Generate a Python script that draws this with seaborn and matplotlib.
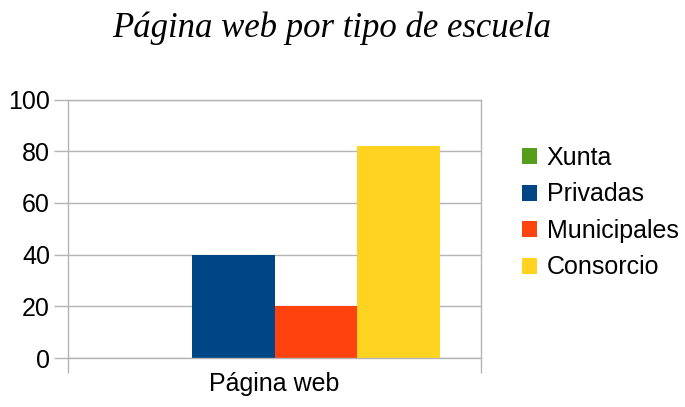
import matplotlib
matplotlib.use('Agg')
import matplotlib.pyplot as plt
import seaborn as sns
import pandas as pd
from matplotlib.ticker import FixedLocator

# Data
categories = ["Página web"]
schools = ["Xunta", "Privadas", "Municipales", "Consorcio"]
values = [0, 40, 20, 82]
colors = ["#579D1C", "#004586", "#FF420E", "#FFD320"]
title = "Página web por tipo de escuela"

df = pd.DataFrame({
    "categoria": categories * len(schools),
    "escuela": schools,
    "valor": values,
})

sns.set_theme(style="white")
plt.rcParams['font.family'] = ['Liberation Sans', 'DejaVu Sans']
plt.rcParams['text.color'] = 'black'

fig = plt.figure(figsize=(6.85, 4.07), dpi=100)
ax = fig.add_axes([68 / 685, 1 - 358 / 407, 413 / 685, (358 - 99.5) / 407])

sns.barplot(data=df, x="categoria", y="valor", hue="escuela",
            hue_order=schools, palette=colors, width=0.8,
            saturation=1, linewidth=0, ax=ax, legend=True)

grid = "#b3b3b3"
ax.set_ylim(0, 100)
ax.set_xlim(-0.5, 0.5)
ax.set_yticks([0, 20, 40, 60, 80, 100])
ax.yaxis.grid(True, color=grid, linewidth=1)
ax.set_axisbelow(True)
for s in ax.spines.values():
    s.set_color(grid)
    s.set_linewidth(1)

ax.tick_params(axis="y", length=10, width=1, color=grid, direction="out",
               left=True, labelsize=18, pad=3, labelcolor="black")
ax.xaxis.set_minor_locator(FixedLocator([-0.5, 0.5]))
ax.tick_params(axis="x", which="minor", length=11, width=1, color=grid,
               direction="out", bottom=True)
ax.tick_params(axis="x", which="major", length=0, labelsize=18, pad=10,
               labelcolor="black")
ax.set_xlabel("")
ax.set_ylabel("")

handles, labels = ax.get_legend_handles_labels()
ax.legend(handles, labels, loc="center left", bbox_to_anchor=(1.099, 0.562),
          frameon=False, fontsize=18, handlelength=0.6, handleheight=0.6,
          handletextpad=0.4, labelspacing=0.5, borderaxespad=0, borderpad=0)

fig.text(332 / 685, 1 - 28 / 407, title, ha="center", va="center",
         fontsize=25, style="italic", color="black",
         family=["Liberation Serif", "DejaVu Serif"])

fig.savefig("out.png", dpi=100)
